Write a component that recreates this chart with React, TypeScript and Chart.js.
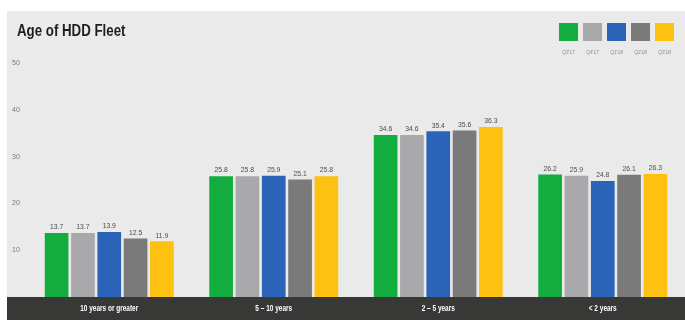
import React, { useEffect, useRef } from "react";
import { Chart, registerables } from "chart.js";

Chart.register(...registerables);

const categories = ["10 years or greater", "5 – 10 years", "2 – 5 years", "< 2 years"];
const seriesNames = ["Q3'17", "Q4'17", "Q1'18", "Q2'18", "Q3'18"];
const s1 = [13.7, 25.8, 34.6, 26.2];
const s2 = [13.7, 25.8, 34.6, 25.9];
const s3 = [13.9, 25.9, 35.4, 24.8];
const s4 = [12.5, 25.1, 35.6, 26.1];
const s5 = [11.9, 25.8, 36.3, 26.3];
const colors = ["#13ad3f", "#a9a9ab", "#2b63b9", "#7a7a7a", "#fdc112"];
const yTicks = [10, 20, 30, 40, 50];

function squeezeText(ctx: any, text: string, x: number, y: number, sx: number) {
  ctx.save();
  ctx.translate(x, y);
  ctx.scale(sx, 1);
  ctx.fillText(text, 0, 0);
  ctx.restore();
}

const bgPlugin = {
  id: "bgPlugin",
  beforeDraw(chart: any) {
    const { ctx, width, height, chartArea } = chart;
    ctx.save();
    ctx.fillStyle = "#ffffff";
    ctx.fillRect(0, 0, width, height);
    ctx.fillStyle = "#eaeaea";
    ctx.fillRect(7, 11, width - 7, height - 11);
    ctx.fillStyle = "#383836";
    ctx.fillRect(7, chartArea.bottom, width - 7, height - chartArea.bottom);
    ctx.restore();
  },
  afterDraw(chart: any) {
    const { ctx, width, chartArea } = chart;
    ctx.save();
    // title
    ctx.fillStyle = "#1e1e1e";
    ctx.font = "bold 16px 'Liberation Sans', sans-serif";
    ctx.textAlign = "left";
    ctx.textBaseline = "middle";
    squeezeText(ctx, "Age of HDD Fleet", 17, 32, 0.83);
    // legend
    const box = 19;
    const step = 24;
    const startX = width - 126;
    seriesNames.forEach((n, i) => {
      const x = startX + i * step;
      ctx.fillStyle = colors[i];
      ctx.fillRect(x, 23, box, 18);
      ctx.fillStyle = "#8a8a8a";
      ctx.font = "6px 'Liberation Sans', sans-serif";
      ctx.textAlign = "center";
      squeezeText(ctx, n, x + box / 2, 52, 0.8);
    });
    // category labels
    const xs = chart.scales.x;
    ctx.fillStyle = "#ffffff";
    ctx.font = "bold 9px 'Liberation Sans', sans-serif";
    ctx.textAlign = "center";
    ctx.textBaseline = "middle";
    categories.forEach((c, i) => {
      squeezeText(ctx, c, xs.getPixelForTick(i), chartArea.bottom + 12, 0.72);
    });
    // value labels
    ctx.font = "8px 'Liberation Sans', sans-serif";
    ctx.fillStyle = "#4a4a4a";
    ctx.textAlign = "center";
    ctx.textBaseline = "bottom";
    chart.data.datasets.forEach((ds: any, di: number) => {
      const meta = chart.getDatasetMeta(di);
      meta.data.forEach((el: any, i: number) => {
        squeezeText(ctx, ds.data[i].toFixed(1), el.x, el.y - 2, 0.85);
      });
    });
    ctx.restore();
  },
};

export default function App() {
  const ref = useRef<HTMLCanvasElement>(null);
  useEffect(() => {
    document.body.style.margin = "0";
    if (!ref.current) return;
    const all = [s1, s2, s3, s4, s5];
    const chart = new Chart(ref.current, {
      type: "bar",
      data: {
        labels: categories,
        datasets: all.map((d, i) => ({
          label: seriesNames[i],
          data: d,
          backgroundColor: colors[i],
          borderWidth: 0,
          categoryPercentage: 0.8,
          barPercentage: 0.9,
        })),
      },
      options: {
        animation: false,
        responsive: false,
        maintainAspectRatio: false,
        layout: { padding: { top: 63, left: 12, right: 0, bottom: 0 } },
        plugins: { legend: { display: false }, tooltip: { enabled: false }, title: { display: false } },
        scales: {
          x: {
            grid: { display: false, drawTicks: false },
            border: { display: false },
            ticks: { display: false },
            afterFit(s: any) {
              s.height = 23;
            },
          },
          y: {
            min: 0,
            max: 50,
            grid: { display: false, drawTicks: false },
            border: { display: false },
            afterBuildTicks(s: any) {
              s.ticks = yTicks.map((v) => ({ value: v }));
            },
            ticks: {
              color: "#7a7a7a",
              font: { size: 7, family: "'Liberation Sans', sans-serif" },
              crossAlign: "far",
              padding: 0,
            },
            afterFit(s: any) {
              s.width = 15;
            },
          },
        },
      },
      plugins: [bgPlugin],
    });
    return () => chart.destroy();
  }, []);
  return (
    <div style={{ width: 685, height: 320 }}>
      <canvas ref={ref} width={685} height={320} style={{ display: "block" }} />
    </div>
  );
}
